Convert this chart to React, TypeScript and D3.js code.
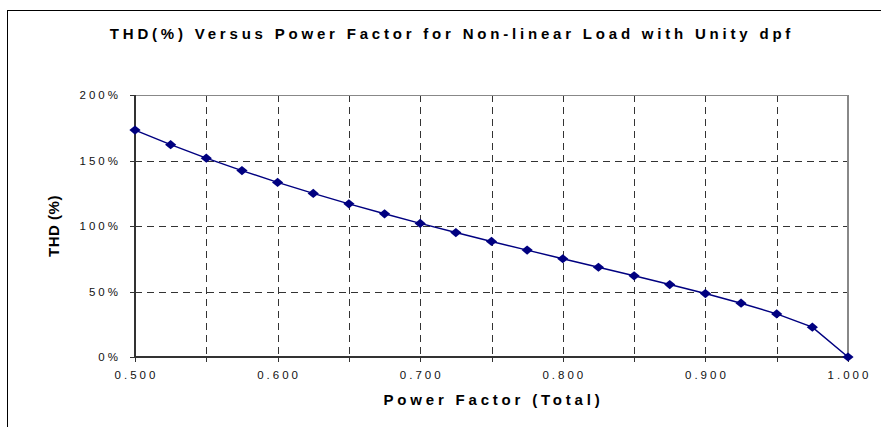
import React from 'react';
import * as d3 from 'd3';

// power factor (total) and THD (%)
const powerFactor = [
  0.5, 0.525, 0.55, 0.575, 0.6, 0.625, 0.65, 0.675, 0.7, 0.725, 0.75,
  0.775, 0.8, 0.825, 0.85, 0.875, 0.9, 0.925, 0.95, 0.975, 1.0,
];
const thd = [
  173.2, 162.1, 151.8, 142.3, 133.3, 124.9, 116.9, 109.3, 102.0, 95.0, 88.2,
  81.6, 75.0, 68.5, 62.0, 55.3, 48.4, 41.1, 32.9, 22.8, 0,
];
const yTicks = [0, 50, 100, 150, 200];
const xLabelTicks = [0.5, 0.6, 0.7, 0.8, 0.9, 1.0];
const xGridTicks = [0.55, 0.6, 0.65, 0.7, 0.75, 0.8, 0.85, 0.9, 0.95];

const W = 881;
const H = 427;
const FONT = '"Liberation Sans", Arial, sans-serif';
const NAVY = '#000080';

const App: React.FC = () => {
  const x = d3.scaleLinear().domain([0.5, 1.0]).range([135, 848]);
  const y = d3.scaleLinear().domain([0, 200]).range([357, 95]);

  const line = d3.line<number>()
    .x((_, i) => x(powerFactor[i]))
    .y(d => y(d));

  // slightly flattened diamond like the Excel marker
  const diamond = 'M0,-4.6L5.6,0L0,4.6L-5.6,0Z';

  const [x0, x1] = x.range();
  const [y0, y1] = y.range();

  return (
    <svg
      width={W}
      height={H}
      style={{ position: 'absolute', left: 0, top: 0, background: '#fff' }}
      fontFamily={FONT}
    >
      {/* outer chart border */}
      <rect x={7.5} y={10.5} width={W + 20} height={H + 20} fill="none" stroke="#000" strokeWidth={1} />

      {/* title */}
      <text x={452} y={39} textAnchor="middle" fontSize={15} fontWeight="bold" letterSpacing={3.8}>
        THD(%) Versus Power Factor for Non-linear Load with Unity dpf
      </text>

      {/* horizontal grid */}
      {yTicks.filter(t => t > 0 && t < 200).map(t => (
        <line key={'hg' + t} x1={x0} x2={x1} y1={Math.round(y(t)) + 0.5} y2={Math.round(y(t)) + 0.5}
          stroke="#333" strokeDasharray="7,5" strokeWidth={1} />
      ))}
      {/* vertical grid */}
      {xGridTicks.map(t => (
        <line key={'vg' + t} x1={Math.round(x(t)) + 0.5} x2={Math.round(x(t)) + 0.5} y1={y1} y2={y0}
          stroke="#333" strokeDasharray="7,5" strokeWidth={1} />
      ))}

      {/* plot frame: top and right in grey */}
      <line x1={x0} x2={x1} y1={y1 + 0.5} y2={y1 + 0.5} stroke="#888" strokeWidth={1} />
      <line x1={x1} x2={x1} y1={y1} y2={y0} stroke="#888" strokeWidth={2} />

      {/* axes */}
      <line x1={x0} x2={x0} y1={y1} y2={y0} stroke="#333" strokeWidth={2} />
      <line x1={x0} x2={x1} y1={y0} y2={y0} stroke="#333" strokeWidth={2} />

      {/* y ticks + labels */}
      {yTicks.map(t => (
        <g key={'yt' + t}>
          <line x1={x0 - 5} x2={x0} y1={Math.round(y(t)) + 0.5} y2={Math.round(y(t)) + 0.5} stroke="#333" />
          <text x={x0 - 14} y={y(t) + 4} textAnchor="end" fontSize={11.5} letterSpacing={3} fill="#111">
            {t}%
          </text>
        </g>
      ))}

      {/* x ticks */}
      {powerFactor.filter((_, i) => i % 2 === 0).map(t => (
        <line key={'xt' + t} x1={Math.round(x(t)) + 0.5} x2={Math.round(x(t)) + 0.5} y1={y0} y2={y0 + 5} stroke="#333" />
      ))}
      {xLabelTicks.map(t => (
        <text key={'xl' + t} x={x(t) + 1.5} y={379} textAnchor="middle" fontSize={11.5} letterSpacing={3} fill="#111">
          {t.toFixed(3)}
        </text>
      ))}

      {/* axis titles */}
      <text x={(x0 + x1) / 2 + 2} y={405} textAnchor="middle" fontSize={15} fontWeight="bold" letterSpacing={3.8}>
        Power Factor (Total)
      </text>
      <text transform={`translate(59, ${(y0 + y1) / 2}) rotate(-90)`} textAnchor="middle" fontSize={15} fontWeight="bold" letterSpacing={0.5}>
        THD (%)
      </text>

      {/* series */}
      <path d={line(thd) || undefined} fill="none" stroke={NAVY} strokeWidth={1.5} />
      {thd.map((v, i) => (
        <path key={'m' + i} d={diamond} transform={`translate(${x(powerFactor[i])},${y(v)})`} fill={NAVY} />
      ))}
    </svg>
  );
};

export default App;
